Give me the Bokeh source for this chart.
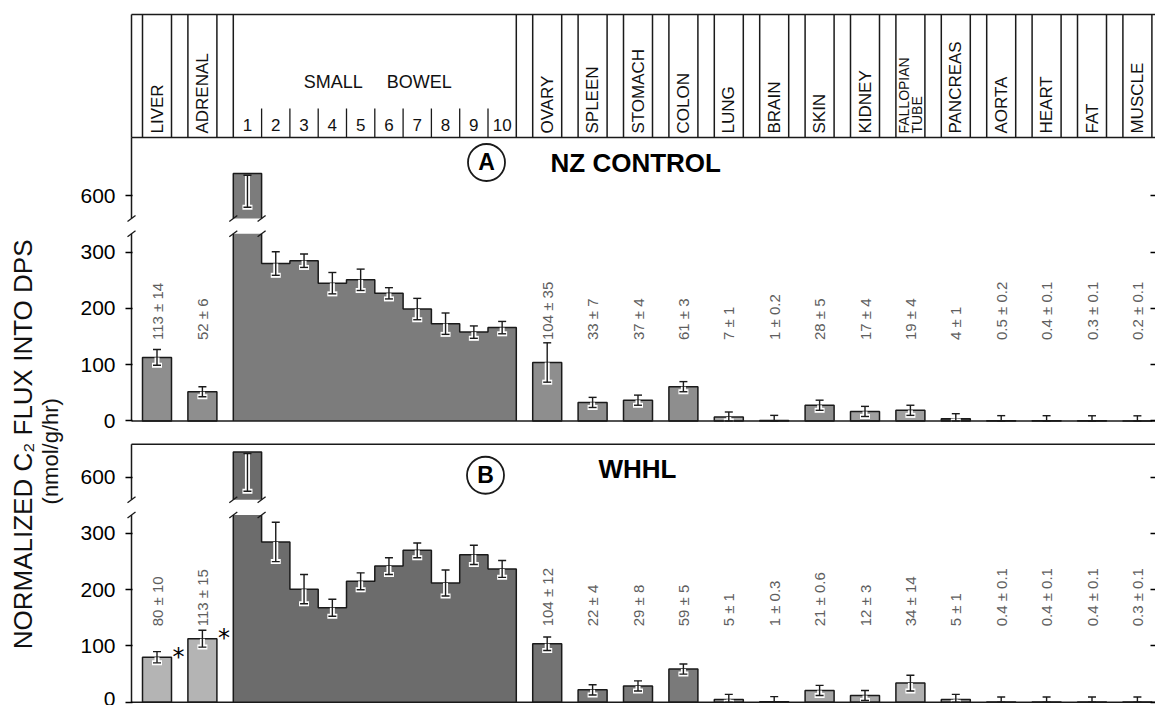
from math import pi
from bokeh.plotting import figure
from bokeh.layouts import row
from bokeh.models import FixedTicker, LinearAxis, Range1d
from bokeh.core.properties import value
from bokeh.embed import file_html
from bokeh.resources import INLINE

# ---------------- data ----------------
organs = ["LIVER", "ADRENAL", "OVARY", "SPLEEN", "STOMACH", "COLON", "LUNG", "BRAIN",
          "SKIN", "KIDNEY", "FALLOPIAN\nTUBE", "PANCREAS", "AORTA", "HEART", "FAT", "MUSCLE"]
bowel_group = "SMALL BOWEL"
bowel_segments = ["1", "2", "3", "4", "5", "6", "7", "8", "9", "10"]

nz_values = [113, 52, 104, 33, 37, 61, 7, 1, 28, 17, 19, 4, 0.5, 0.4, 0.3, 0.2]
nz_errors = [14, 6, 35, 7, 4, 3, 1, 0.2, 5, 4, 4, 1, 0.2, 0.1, 0.1, 0.1]
nz_bowel = [640, 280, 285, 245, 251, 227, 199, 173, 158, 166]
nz_bowel_err = [60, 21, 12, 19, 19, 10, 19, 19, 11, 11]

whhl_values = [80, 113, 104, 22, 29, 59, 5, 1, 21, 12, 34, 5, 0.4, 0.4, 0.4, 0.3]
whhl_errors = [10, 15, 12, 4, 8, 5, 1, 0.3, 0.6, 3, 14, 1, 0.1, 0.1, 0.1, 0.1]
whhl_bowel = [645, 285, 201, 168, 215, 242, 270, 212, 262, 237]
whhl_bowel_err = [70, 35, 26, 15, 15, 15, 13, 23, 17, 15]
whhl_signif = [True, True] + [False] * 14

tick_values = [0, 100, 200, 300, 600]
y_title = "NORMALIZED C₂ FLUX INTO DPS"
y_units = "(nmol/g/hr)"

# ---------------- styles ----------------
nz_colors = ["#8e8e8e", "#8e8e8e", "#8e8e8e", "#8e8e8e", "#8e8e8e", "#8e8e8e", "#a8a8a8", "#222222",
             "#8e8e8e", "#a0a0a0", "#a0a0a0", "#444444", "#222222", "#222222", "#222222", "#222222"]
nz_bowel_color = "#7c7c7c"
whhl_colors = ["#b4b4b4", "#b4b4b4", "#737373", "#7a7a7a", "#7a7a7a", "#7a7a7a", "#a8a8a8", "#222222",
               "#a5a5a5", "#a8a8a8", "#b0b0b0", "#aaaaaa", "#222222", "#222222", "#222222", "#222222"]
whhl_bowel_color = "#6c6c6c"
OUT = "#1a1a1a"
FONT = "Liberation Sans"
LABEL_GRAY = "#5e5e5e"

# ---------------- layout ----------------
PX = 0.5625          # screen px per value unit
BAR_W = 29.0
PITCH = 45.4
GAP = PITCH - BAR_W
SEG_W = 28.3
FIRST = 11.0
BREAK_LO, BREAK_HI, SHIFT = 333, 360, 200
MIN_ERR = 9
A_BASE, B_BASE = 500, 0
B_TOP = 458.7
A_TOP = 1004.0
H_TOP = 1222.7
X0, X1 = -6, 1024
Y0, Y1 = -4, 1226.2
TITLE_W = 64

def disp(v):
    return v if v < BREAK_LO else v - SHIFT

bowel_x0 = FIRST + 2 * PITCH
bowel_edges = [bowel_x0 + i * SEG_W for i in range(len(bowel_segments) + 1)]
rest_x0 = bowel_edges[-1] + GAP
org_left = [FIRST + i * PITCH for i in range(2)] + [rest_x0 + i * PITCH for i in range(len(organs) - 2)]
org_right = [l + BAR_W for l in org_left]
org_c = [l + BAR_W / 2 for l in org_left]
seg_c = [(bowel_edges[i] + bowel_edges[i + 1]) / 2 for i in range(len(bowel_segments))]

# ---------------- y title strip ----------------
t = figure(width=TITLE_W, height=705, x_range=Range1d(0, TITLE_W), y_range=Range1d(0, 705),
           output_backend="svg", toolbar_location=None, x_axis_location=None, y_axis_location=None,
           min_border_left=0, min_border_right=0, min_border_top=0, min_border_bottom=0)
t.outline_line_color = None
t.grid.visible = False
t.text(x=[22, 50], y=[265, 258], text=[y_title, y_units], angle=pi / 2, text_align="center",
       text_baseline="middle", text_font=value(FONT), text_font_size=["26px", "22px"],
       text_color="#111111")

# ---------------- main figure ----------------
p = figure(width=1155 - TITLE_W, height=705, x_range=Range1d(X0, X1), y_range=Range1d(Y0, Y1),
           output_backend="svg", toolbar_location=None, x_axis_location=None,
           min_border_left=125 - TITLE_W, min_border_right=0, min_border_top=12, min_border_bottom=1)
p.outline_line_color = None
p.grid.visible = False

tick_pos = [B_BASE + disp(v) for v in tick_values] + [A_BASE + disp(v) for v in tick_values]
overrides = {}
for v in tick_values:
    overrides[B_BASE + disp(v)] = str(v)
    overrides[A_BASE + disp(v)] = str(v)
yax = p.yaxis[0]
yax.ticker = FixedTicker(ticks=tick_pos)
yax.major_label_overrides = overrides
yax.axis_line_color = None
yax.major_tick_in = 7
yax.major_tick_out = 0
yax.major_tick_line_width = 1.5
yax.minor_tick_line_color = None
yax.major_label_text_font = FONT
yax.major_label_text_font_size = "21px"
yax.major_label_text_color = "black"
yax.major_label_standoff = 10

rax = LinearAxis(ticker=FixedTicker(ticks=tick_pos), axis_line_color=None, major_tick_in=5,
                 major_tick_out=0, major_label_standoff=0, minor_tick_line_color=None,
                 major_tick_line_width=1.3, major_label_overrides={k: "" for k in tick_pos})
p.add_layout(rax, "right")

def panel(base, top_line, vals, errs, colors, bvals, berrs, bcolor, label_y):
    p.quad(left=org_left, right=org_right, bottom=[base] * len(vals), top=[base + disp(v) for v in vals],
           fill_color=colors, line_color=OUT, line_width=1.5)
    broken = [v >= BREAK_LO for v in bvals]
    low_h = [min(disp(v), BREAK_LO) for v in bvals]
    px_, py_ = [bowel_edges[0]], [base]
    for i, h in enumerate(low_h):
        px_ += [bowel_edges[i], bowel_edges[i + 1]]
        py_ += [base + h, base + h]
    px_.append(bowel_edges[-1]); py_.append(base)
    p.patch(x=px_, y=py_, fill_color=bcolor, line_color=None)
    up_l = [bowel_edges[i] for i in range(len(bvals)) if broken[i]]
    up_r = [bowel_edges[i + 1] for i in range(len(bvals)) if broken[i]]
    up_t = [base + disp(bvals[i]) for i in range(len(bvals)) if broken[i]]
    p.quad(left=up_l, right=up_r, bottom=[base + BREAK_HI] * len(up_l), top=up_t,
           fill_color=bcolor, line_color=None)
    xs, ys = [], []
    cx, cy = [bowel_edges[0]], [base]
    for i, h in enumerate(low_h):
        if broken[i]:
            cx.append(bowel_edges[i]); cy.append(base + h)
            xs.append(cx); ys.append(cy)
            cx, cy = [bowel_edges[i + 1]], [base + h]
        else:
            cx += [bowel_edges[i], bowel_edges[i + 1]]
            cy += [base + h, base + h]
    cx.append(bowel_edges[-1]); cy.append(base)
    xs.append(cx); ys.append(cy)
    for l, r, tp in zip(up_l, up_r, up_t):
        xs.append([l, l, r, r]); ys.append([base + BREAK_HI, tp, tp, base + BREAK_HI])
    p.multi_line(xs=xs, ys=ys, line_color=OUT, line_width=1.5)
    mx = [0.0] + [e for i in range(len(bvals)) if broken[i] for e in (bowel_edges[i], bowel_edges[i + 1])]
    bx0, by0, bx1, by1 = [], [], [], []
    for x in mx:
        for yb in (BREAK_LO, BREAK_HI):
            bx0.append(x - 4); by0.append(base + yb - 3 / PX)
            bx1.append(x + 4); by1.append(base + yb + 3 / PX)
    p.segment(x0=bx0, y0=by0, x1=bx1, y1=by1, line_color=OUT, line_width=1.3)
    allx = org_c + seg_c
    allv = list(vals) + list(bvals)
    alle = list(errs) + list(berrs)
    allb = [False] * len(vals) + broken
    wx0, wy0, wx1, wy1 = [], [], [], []
    kx0, ky0, kx1, ky1 = [], [], [], []
    for x, v, e, br in zip(allx, allv, alle, allb):
        e = max(e, MIN_ERR)
        lo = max(v - e, 0)
        hi = v - 3 if br else v + e
        ylo, yv, yhi = base + disp(lo), base + disp(v), base + disp(hi)
        if yv - ylo > 1:
            wx0 += [x, x - 5]; wy0 += [ylo, ylo]; wx1 += [x, x + 5]; wy1 += [min(yv, yhi), ylo]
        kx0 += [x, x - 4, x - 4]; ky0 += [ylo, ylo, yhi]
        kx1 += [x, x + 4, x + 4]; ky1 += [yhi, ylo, yhi]
    p.segment(x0=wx0, y0=wy0, x1=wx1, y1=wy1, line_color="white", line_width=5)
    p.segment(x0=kx0, y0=ky0, x1=kx1, y1=ky1, line_color=OUT, line_width=1.4)
    labels = [f"{v:g} ± {e:g}" for v, e in zip(vals, errs)]
    p.text(x=org_c, y=[base + label_y] * len(vals), text=labels, angle=pi / 2,
           text_align="left", text_baseline="middle", text_font=value(FONT),
           text_font_size="15px", text_color=LABEL_GRAY)
    p.segment(x0=[0, 0], y0=[base, base], x1=[X1, 0], y1=[base, base + BREAK_LO],
              line_color=OUT, line_width=1.5)
    p.segment(x0=[0, 0], y0=[base + BREAK_HI, top_line], x1=[0, X1], y1=[top_line, top_line],
              line_color=OUT, line_width=1.5)

panel(A_BASE, A_TOP, nz_values, nz_errors, nz_colors, nz_bowel, nz_bowel_err, nz_bowel_color, 144)
panel(B_BASE, B_TOP, whhl_values, whhl_errors, whhl_colors, whhl_bowel, whhl_bowel_err, whhl_bowel_color, 135)

ax_ = [org_right[i] + 1 for i in range(len(organs)) if whhl_signif[i]]
ay_ = [B_BASE + disp(whhl_values[i]) + 1 for i in range(len(organs)) if whhl_signif[i]]
p.text(x=ax_, y=ay_, text=["*"] * len(ax_), text_align="left", text_baseline="middle",
       text_font=value("DejaVu Sans"), text_font_size="24px", text_color="black")

# header box
vx = [0.0] + org_left + org_right + [bowel_edges[0], bowel_edges[-1]]
p.segment(x0=vx, y0=[A_TOP] * len(vx), x1=vx, y1=[H_TOP] * len(vx), line_color=OUT, line_width=1.5)
p.segment(x0=[0], y0=[H_TOP], x1=[X1], y1=[H_TOP], line_color=OUT, line_width=1.5)
sep = bowel_edges[1:-1]
p.segment(x0=sep, y0=[A_TOP] * len(sep), x1=sep, y1=[A_TOP + 29 / PX] * len(sep),
          line_color=OUT, line_width=1.3)
hdr_size = ["14px" if "\n" in o else "17px" for o in organs]
p.text(x=org_c, y=[A_TOP + 7] * len(organs), text=organs, angle=pi / 2, text_align="left",
       text_baseline="middle", text_font=value(FONT), text_font_size=hdr_size, text_color="#111111",
       text_line_height=0.85)
p.text(x=seg_c, y=[A_TOP + 23] * len(seg_c), text=bowel_segments, text_align="center",
       text_baseline="middle", text_font=value(FONT), text_font_size="17px", text_color="#111111")
bc = (bowel_edges[0] + bowel_edges[-1]) / 2
words = bowel_group.split()
p.text(x=[bc - 12, bc + 12], y=[A_TOP + 98] * 2, text=words, text_align=["right", "left"],
       text_baseline="middle", text_font=value(FONT), text_font_size="18px", text_color="#111111")

# panel titles
p.scatter(x=[355, 354], y=[A_TOP - 25 / PX, B_TOP - 31 / PX], marker="circle", size=37,
          fill_color="white", line_color=OUT, line_width=1.8)
p.text(x=[355, 354], y=[A_TOP - 25 / PX, B_TOP - 31 / PX], text=["A", "B"], text_align="center",
       text_baseline="middle", text_font=value(FONT), text_font_style="bold", text_font_size="23px",
       text_color="black")
p.text(x=[419, 467], y=[A_TOP - 26 / PX, B_TOP - 25 / PX], text=["NZ CONTROL", "WHHL"], text_align="left",
       text_baseline="middle", text_font=value(FONT), text_font_style="bold", text_font_size="26px",
       text_color="black")

layout = row(t, p, spacing=0)
open("out.html", "w").write(file_html(layout, INLINE))
